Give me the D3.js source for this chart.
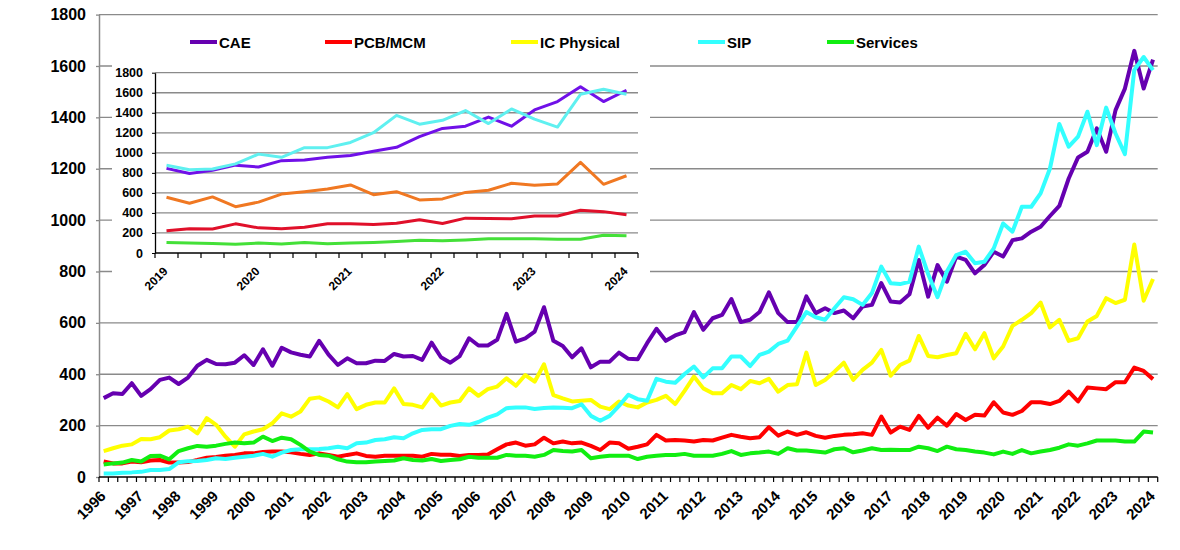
<!DOCTYPE html>
<html lang="en">
<head>
<meta charset="utf-8">
<title>EDA revenue by segment, 1996-2024</title>
<script src="https://cdn.jsdelivr.net/npm/d3@7"></script>
<style>
  body { margin: 0; background: #fff; }
  svg text { font-family: "Liberation Sans", Arial, sans-serif; font-weight: bold; fill: #000; }
  .grid line { stroke: #8a8a8a; stroke-width: 1.3; }
</style>
</head>
<body>
<script>
// ---- data (quarterly, 1996 Q1 .. 2024 Q1) ----
const years = [1996, 1997, 1998, 1999, 2000, 2001, 2002, 2003, 2004, 2005, 2006, 2007, 2008, 2009, 2010,
               2011, 2012, 2013, 2014, 2015, 2016, 2017, 2018, 2019, 2020, 2021, 2022, 2023, 2024];
const quarters = ["Q1", "Q2", "Q3", "Q4"];

const cae = [307, 326, 323, 365, 316, 342, 378, 387, 362, 387, 433, 456, 440, 439, 445, 474, 436, 497, 433, 503,
             485, 476, 469, 530, 476, 436, 462, 443, 443, 453, 452, 479, 469, 471, 456, 523, 466, 445, 471, 540,
             512, 512, 534, 635, 527, 540, 566, 661, 530, 510, 466, 501, 427, 449, 449, 484, 460, 458, 521, 577,
             530, 551, 564, 642, 573, 618, 631, 693, 603, 612, 642, 719, 638, 603, 603, 703, 638, 657, 638, 648,
             618, 664, 670, 755, 683, 679, 711, 845, 702, 825, 760, 858, 845, 793, 825, 877, 858, 922, 929, 955,
             974, 1016, 1055, 1162, 1244, 1266, 1357, 1266, 1428, 1512, 1659, 1512, 1625];
const pcb = [60, 53, 53, 60, 57, 64, 66, 56, 56, 58, 66, 75, 78, 83, 86, 92, 92, 97, 99, 99,
             96, 90, 86, 92, 86, 79, 86, 92, 82, 79, 83, 83, 83, 83, 79, 90, 87, 87, 82, 86,
             86, 88, 108, 127, 134, 122, 127, 153, 131, 138, 131, 134, 121, 105, 134, 131, 110, 118, 127, 164,
             142, 144, 142, 138, 144, 142, 153, 164, 157, 151, 155, 194, 161, 177, 164, 174, 160, 153, 160, 164,
             166, 170, 164, 235, 173, 196, 183, 238, 192, 231, 200, 245, 222, 242, 239, 291, 251, 242, 257, 291,
             291, 284, 296, 332, 294, 348, 345, 342, 369, 369, 426, 413, 381];
const icPhysical = [101, 112, 122, 127, 148, 147, 155, 181, 186, 196, 170, 229, 203, 157, 118, 166, 177, 186, 209, 248,
             235, 255, 305, 310, 294, 271, 323, 264, 281, 290, 290, 345, 284, 281, 271, 322, 278, 290, 296, 345,
             316, 342, 352, 384, 355, 397, 371, 439, 319, 306, 294, 297, 300, 274, 264, 294, 278, 271, 290, 300,
             316, 284, 335, 391, 345, 326, 326, 358, 342, 374, 365, 382, 332, 358, 361, 484, 358, 378, 410, 445,
             378, 417, 445, 495, 394, 436, 453, 549, 471, 466, 475, 482, 557, 497, 560, 462, 508, 588, 612, 638,
             679, 582, 612, 530, 540, 605, 627, 696, 677, 690, 905, 686, 771];
const sip = [14, 14, 17, 18, 20, 27, 27, 31, 57, 61, 62, 66, 73, 70, 75, 79, 83, 90, 79, 95,
             105, 108, 108, 109, 112, 118, 112, 131, 134, 144, 147, 155, 151, 170, 183, 186, 186, 199, 206, 203,
             214, 231, 244, 268, 271, 271, 265, 269, 271, 270, 268, 283, 238, 219, 238, 277, 320, 303, 297, 382,
             371, 367, 401, 430, 388, 423, 423, 469, 469, 432, 475, 488, 518, 531, 586, 642, 622, 612, 657, 700,
             692, 670, 716, 819, 754, 751, 760, 897, 790, 700, 800, 864, 877, 832, 838, 890, 987, 955, 1052, 1052,
             1104, 1201, 1374, 1286, 1325, 1422, 1292, 1438, 1337, 1257, 1584, 1635, 1584];
const services = [49, 53, 56, 66, 60, 82, 83, 69, 101, 112, 121, 118, 122, 129, 134, 131, 134, 157, 140, 153,
             147, 125, 99, 86, 83, 69, 60, 57, 57, 60, 62, 64, 73, 66, 64, 70, 62, 66, 69, 79,
             75, 75, 75, 86, 83, 83, 79, 86, 105, 101, 99, 105, 73, 79, 83, 83, 83, 70, 79, 83,
             86, 86, 90, 83, 83, 83, 90, 101, 86, 92, 95, 99, 90, 112, 103, 103, 99, 95, 108, 112,
             96, 103, 112, 105, 106, 105, 105, 118, 112, 101, 118, 108, 105, 99, 95, 88, 99, 90, 105, 92,
             99, 105, 114, 127, 122, 131, 142, 142, 142, 138, 138, 177, 173];

const seriesNames = ["CAE", "PCB/MCM", "IC Physical", "SIP", "Services"];
const yTicks = [0, 200, 400, 600, 800, 1000, 1200, 1400, 1600, 1800];
const insetStart = "2019 Q1";

// ---- layout / styles ----
const W = 1180, H = 550;
const mainColors = ["#6600b0", "#ff0000", "#ffff00", "#33ffff", "#11ee11"];
const insetColors = ["#7010e8", "#e0102a", "#f07822", "#5ff0f0", "#44e038"];
const legendX = [190, 325, 511, 698, 827];

let categories = [];
years.forEach(y => quarters.forEach(q => categories.push(y + " " + q)));
categories = categories.slice(0, cae.length);

const allSeries = [cae, pcb, icPhysical, sip, services];

const svg = d3.select("body").append("svg")
  .attr("width", W).attr("height", H);

// ===== main chart =====
const x = d3.scaleBand().domain(categories).range([99, 1157.7]);
const y = d3.scaleLinear().domain([0, 1800]).range([477, 14.6]);

svg.append("g").attr("class", "grid")
  .selectAll("line").data(yTicks.filter(d => d > 0)).enter().append("line")
  .attr("x1", x.range()[0]).attr("x2", x.range()[1])
  .attr("y1", d => y(d)).attr("y2", d => y(d));

// y axis
const yAxis = svg.append("g")
  .attr("transform", "translate(" + x.range()[0] + ",0)")
  .call(d3.axisLeft(y).tickValues(yTicks).tickFormat(d3.format("d"))
    .tickSize(3).tickSizeOuter(0).tickPadding(10));
yAxis.select(".domain").attr("stroke", "#8a8a8a").attr("stroke-width", 1.5);
yAxis.selectAll(".tick line").attr("stroke", "#8a8a8a").attr("stroke-width", 1.3);
yAxis.selectAll("text").attr("font-size", 16);
yAxis.attr("font-size", null).attr("font-family", null);

// x axis (ticks between categories, like a category axis)
function categoryAxis(g, xs, y0, tickLen, fontSize, lx, ly) {
  const r = xs.range();
  g.append("line").attr("x1", r[0]).attr("x2", r[1]).attr("y1", y0).attr("y2", y0)
    .attr("stroke", "#000").attr("stroke-width", 1.3);
  const edges = xs.domain().map(c => xs(c)).concat([r[1]]);
  g.selectAll("line.tk").data(edges).enter().append("line").attr("class", "tk")
    .attr("x1", d => d).attr("x2", d => d).attr("y1", y0).attr("y2", y0 + tickLen)
    .attr("stroke", "#000").attr("stroke-width", 1.2);
  g.selectAll("text").data(xs.domain().filter(c => c.endsWith("Q1"))).enter().append("text")
    .attr("transform", d => "translate(" + (xs(d) + xs.bandwidth() / 2 + lx) + "," + (y0 + ly) + ") rotate(-45)")
    .attr("text-anchor", "end")
    .attr("font-size", fontSize)
    .text(d => d.slice(0, 4));
}
categoryAxis(svg.append("g"), x, 477, 5, 15, 3, 20);

// lines
const line = d3.line().x((d, i) => x(categories[i]) + x.bandwidth() / 2).y(d => y(d));
svg.append("g").selectAll("path").data(allSeries).enter().append("path")
  .attr("d", d => line(d))
  .attr("fill", "none")
  .attr("stroke", (d, i) => mainColors[i])
  .attr("stroke-width", 4)
  .attr("stroke-linejoin", "round");

// legend
const leg = svg.append("g").selectAll("g").data(seriesNames).enter().append("g")
  .attr("transform", (d, i) => "translate(" + legendX[i] + ",42)");
leg.append("line").attr("x1", 0).attr("x2", 27).attr("y1", 0).attr("y2", 0)
  .attr("stroke", (d, i) => mainColors[i]).attr("stroke-width", 4);
leg.append("text").attr("x", 29).attr("y", 5.5).attr("font-size", 15).text(d => d);

// ===== inset chart (2019 onwards) =====
const startIdx = categories.indexOf(insetStart);
const insetCats = categories.slice(startIdx);

svg.append("rect").attr("x", 112).attr("y", 55).attr("width", 538).attr("height", 245).attr("fill", "#fff");

const xi = d3.scaleBand().domain(insetCats).range([155, 638]);
const yi = d3.scaleLinear().domain([0, 1800]).range([253, 72.7]);

svg.append("g").attr("class", "grid")
  .selectAll("line").data(yTicks.filter(d => d > 0)).enter().append("line")
  .attr("x1", xi.range()[0]).attr("x2", xi.range()[1])
  .attr("y1", d => yi(d)).attr("y2", d => yi(d));

const yiAxis = svg.append("g")
  .attr("transform", "translate(" + xi.range()[0] + ",0)")
  .call(d3.axisLeft(yi).tickValues(yTicks).tickFormat(d3.format("d"))
    .tickSize(3).tickSizeOuter(0).tickPadding(9));
yiAxis.select(".domain").attr("stroke", "#000").attr("stroke-width", 1.3);
yiAxis.selectAll(".tick line").attr("stroke", "#000");
yiAxis.selectAll("text").attr("font-size", 12.5);
yiAxis.attr("font-size", null).attr("font-family", null);

categoryAxis(svg.append("g"), xi, 253, 5, 12, 2, 19);

const lineI = d3.line().x((d, i) => xi(insetCats[i]) + xi.bandwidth() / 2).y(d => yi(d));
svg.append("g").selectAll("path").data(allSeries.map(s => s.slice(startIdx))).enter().append("path")
  .attr("d", d => lineI(d))
  .attr("fill", "none")
  .attr("stroke", (d, i) => insetColors[i])
  .attr("stroke-width", 3)
  .attr("stroke-linejoin", "round");
</script>
</body>
</html>
